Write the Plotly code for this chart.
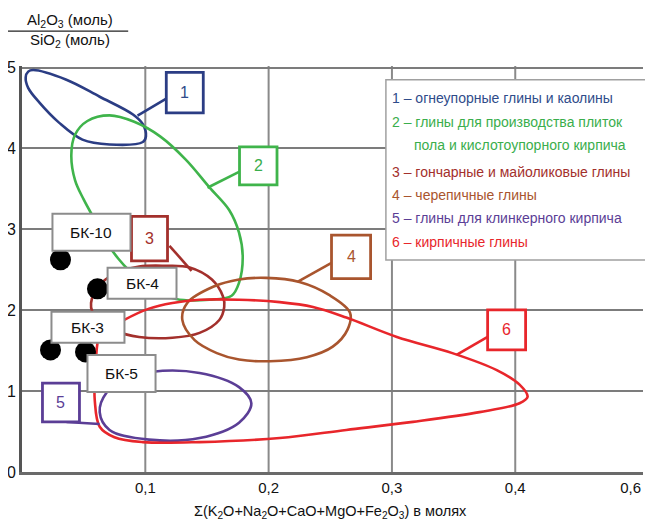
import plotly.graph_objects as go

# ---------------- data ----------------
# 1 – огнеупорные глины и каолины
E1_X = [0.009, 0.036, 0.063, 0.090, 0.098, 0.1005, 0.098, 0.071, 0.049, 0.030, 0.014, 0.005, 0.003, 0.005, 0.009]
E1_Y = [4.97, 4.85, 4.64, 4.42, 4.30, 4.15, 4.08, 4.05, 4.11, 4.32, 4.57, 4.75, 4.88, 4.95, 4.97]
# 2 – глины для производства плиток пола и кислотоупорного кирпича
E2_X = [0.071, 0.091, 0.112, 0.133, 0.152, 0.168, 0.176, 0.179, 0.176, 0.170, 0.152, 0.125, 0.103,
        0.087, 0.078, 0.069, 0.060, 0.050, 0.043, 0.040, 0.043, 0.053, 0.071]
E2_Y = [4.41, 4.33, 4.15, 3.86, 3.52, 3.24, 2.96, 2.66, 2.34, 2.18, 2.13, 2.14, 2.29,
        2.49, 2.64, 2.83, 3.09, 3.37, 3.61, 3.92, 4.17, 4.34, 4.41]
# 3 – гончарные и майоликовые глины
E3_X = [0.056, 0.061, 0.075, 0.095, 0.116, 0.136, 0.154, 0.163, 0.164, 0.160, 0.144, 0.122, 0.095,
        0.075, 0.063, 0.057, 0.056]
E3_Y = [2.09, 2.28, 2.45, 2.54, 2.55, 2.53, 2.38, 2.17, 2.04, 1.88, 1.72, 1.66, 1.67,
        1.75, 1.86, 1.98, 2.09]
# 4 – черепичные глины
E4_X = [0.130, 0.134, 0.155, 0.176, 0.198, 0.225, 0.249, 0.266, 0.264, 0.252, 0.231, 0.201, 0.176,
        0.158, 0.140, 0.130]
E4_Y = [1.88, 2.09, 2.29, 2.38, 2.40, 2.35, 2.19, 1.97, 1.76, 1.55, 1.42, 1.37, 1.39,
        1.47, 1.63, 1.88]
# 5 – глины для клинкерного кирпича
E5_X = [0.106, 0.144, 0.176, 0.186, 0.176, 0.144, 0.103, 0.071, 0.063, 0.0685, 0.083, 0.106]
E5_Y = [1.24, 1.225, 1.05, 0.85, 0.61, 0.42, 0.40, 0.52, 0.74, 0.98, 1.14, 1.24]
# 6 – кирпичные глины
E6_X = [0.071, 0.083, 0.103, 0.122, 0.144, 0.176, 0.209, 0.236, 0.263, 0.304, 0.349, 0.385, 0.4035,
        0.410, 0.4035, 0.371, 0.317, 0.263, 0.209, 0.144, 0.098, 0.075, 0.063, 0.059, 0.059, 0.060,
        0.061, 0.063, 0.071]
E6_Y = [1.76, 1.88, 2.02, 2.09, 2.13, 2.13, 2.10, 2.04, 1.91, 1.67, 1.47, 1.26, 1.08,
        0.93, 0.85, 0.74, 0.62, 0.52, 0.42, 0.37, 0.37, 0.43, 0.56, 0.89, 1.14, 1.39,
        1.57, 1.70, 1.76]

SERIES_X = [E1_X, E2_X, E3_X, E4_X, E5_X, E6_X]
SERIES_Y = [E1_Y, E2_Y, E3_Y, E4_Y, E5_Y, E6_Y]
SERIES_NUM = ["1", "2", "3", "4", "5", "6"]
COLORS = ["#2b3d84", "#3fb44b", "#a3302c", "#a9552e", "#5b3e96", "#e8262b"]
TEXT_COLORS = ["#2f4c8a", "#3aae4c", "#a3302c", "#a9552e", "#5b3e96", "#e8262b"]

LEGEND_LINES = ["1 – огнеупорные глины и каолины",
                "2 – глины для производства плиток",
                "пола и кислотоупорного кирпича",
                "3 – гончарные и майоликовые глины",
                "4 – черепичные глины",
                "5 – глины для клинкерного кирпича",
                "6 – кирпичные глины"]
LEGEND_LINE_SERIES = [0, 1, 1, 2, 3, 4, 5]

SAMPLES = ["БК-10", "БК-4", "БК-3", "БК-5"]
SAMPLE_X = [0.0312, 0.0612, 0.0231, 0.0515]
SAMPLE_Y = [2.624, 2.265, 1.510, 1.485]

# the source axis labels its last tick "0,6" just inside the right edge
X_TICKS = [0.1, 0.2, 0.3, 0.4, 0.4935]
X_TICK_TEXT = ["0,1", "0,2", "0,3", "0,4", "0,6"]
Y_TICKS = [0, 1, 2, 3, 4, 5]
GRID_X = [0.1, 0.2, 0.3, 0.4]

# ---------------- layout helpers (positions, not data) ----------------
FONT = "Liberation Sans, Arial, sans-serif"

# number boxes: (x0, x1, y0, y1) and connector (xa, ya, xb, yb)
NUM_BOX = [(0.117, 0.147, 4.44, 4.94),
           (0.1764, 0.2068, 3.55, 4.02),
           (0.0888, 0.1180, 2.61, 3.16),
           (0.2510, 0.2827, 2.39, 2.93),
           (0.0166, 0.0466, 0.62, 1.10),
           (0.3776, 0.4084, 1.51, 2.005)]
NUM_LINK = [(0.117, 4.616, 0.0937, 4.406),
            (0.1764, 3.713, 0.1504, 3.515),
            (0.1196, 2.797, 0.1375, 2.488),
            (0.2510, 2.587, 0.2234, 2.351),
            (0.0361, 0.619, 0.0629, 0.594),
            (0.3776, 1.671, 0.3524, 1.448)]
BK_BOX = [(0.0247, 0.0880, 2.735, 3.193),
          (0.0694, 0.1253, 2.141, 2.525),
          (0.0239, 0.0831, 1.597, 1.980),
          (0.0531, 0.1083, 0.990, 1.448)]

fig = go.Figure()

for i in range(6):
    fig.add_trace(go.Scatter(x=SERIES_X[i], y=SERIES_Y[i], mode="lines",
                             line=dict(color=COLORS[i], width=2.6, shape="spline", smoothing=1.0),
                             hoverinfo="skip", showlegend=False))

fig.add_trace(go.Scatter(x=SAMPLE_X, y=SAMPLE_Y, mode="markers",
                         marker=dict(color="black", size=21), text=SAMPLES,
                         showlegend=False))

shapes = []
for gx in GRID_X:
    shapes.append(dict(type="line", xref="x", yref="y", x0=gx, x1=gx, y0=0, y1=5.02,
                       line=dict(color="#8a8a8a", width=2), layer="below"))

for i in range(6):
    xa, ya, xb, yb = NUM_LINK[i]
    shapes.append(dict(type="line", xref="x", yref="y", x0=xa, y0=ya, x1=xb, y1=yb,
                       line=dict(color=COLORS[i], width=2.6), layer="above"))
for i in range(6):
    x0, x1, y0, y1 = NUM_BOX[i]
    shapes.append(dict(type="rect", xref="x", yref="y", x0=x0, x1=x1, y0=y0, y1=y1,
                       fillcolor="white", line=dict(color=COLORS[i], width=2.8), layer="above"))
for b in BK_BOX:
    x0, x1, y0, y1 = b
    shapes.append(dict(type="rect", xref="x", yref="y", x0=x0, x1=x1, y0=y0, y1=y1,
                       fillcolor="white", line=dict(color="#8c8c8c", width=2), layer="above"))

# legend frame
shapes.append(dict(type="rect", xref="paper", yref="y", x0=0.586, x1=1.04, y0=2.62, y1=4.85,
                   fillcolor="white", line=dict(color="#a0a0a0", width=1.5), layer="above"))
# fraction bar of the y title
shapes.append(dict(type="line", xref="paper", yref="paper", x0=-0.024, x1=0.171, y0=1.086, y1=1.086,
                   line=dict(color="#222", width=1.2)))

ann = []
for i in range(6):
    x0, x1, y0, y1 = NUM_BOX[i]
    ann.append(dict(x=(x0 + x1) / 2, y=(y0 + y1) / 2, xref="x", yref="y", text=SERIES_NUM[i],
                    xanchor="center", yanchor="middle",
                    showarrow=False, font=dict(family=FONT, size=16, color=TEXT_COLORS[i])))
for i, b in enumerate(BK_BOX):
    x0, x1, y0, y1 = b
    ann.append(dict(x=(x0 + x1) / 2, y=(y0 + y1) / 2, xref="x", yref="y", text=SAMPLES[i],
                    xanchor="center", yanchor="middle",
                    showarrow=False, font=dict(family=FONT, size=15.5, color="#111")))

LEG_Y = [4.629, 4.332, 4.047, 3.713, 3.428, 3.144, 2.847]
for k, line in enumerate(LEGEND_LINES):
    xk = 0.628 if k == 2 else 0.5926
    ann.append(dict(x=xk, y=LEG_Y[k], xref="paper", yref="y", text=line, showarrow=False,
                    xanchor="left", yanchor="middle",
                    font=dict(family=FONT, size=14, color=TEXT_COLORS[LEGEND_LINE_SERIES[k]])))

ann.append(dict(x=0.0773, y=1.111, xref="paper", yref="paper", showarrow=False,
                text="Al<sub>2</sub>O<sub>3</sub> (моль)", xanchor="center", yanchor="middle",
                font=dict(family=FONT, size=15, color="#111")))
ann.append(dict(x=0.0773, y=1.0616, xref="paper", yref="paper", showarrow=False,
                text="SiO<sub>2</sub> (моль)", xanchor="center", yanchor="middle",
                font=dict(family=FONT, size=15, color="#111")))
ann.append(dict(x=0.496, y=-0.0985, xref="paper", yref="paper", showarrow=False,
                text="Σ(K<sub>2</sub>O+Na<sub>2</sub>O+CaO+MgO+Fe<sub>2</sub>O<sub>3</sub>) в молях",
                xanchor="center", yanchor="middle", font=dict(family=FONT, size=14.5, color="#111")))

# the page adds an 8 px body margin, so the figure is 8 px smaller on each axis
fig.update_layout(
    width=645, height=516,
    margin=dict(l=14, r=10, t=58, b=52),
    paper_bgcolor="white", plot_bgcolor="white",
    shapes=shapes, annotations=ann,
    font=dict(family=FONT, size=15, color="#111"),
    xaxis=dict(range=[0, 0.5036], tickvals=X_TICKS, ticktext=X_TICK_TEXT, showgrid=False,
               zeroline=False, showline=True, linecolor="#6a6a6a", linewidth=2.5,
               ticks="", automargin=False, tickfont=dict(family=FONT, size=15, color="#111")),
    yaxis=dict(range=[0, 5.02], tickvals=Y_TICKS, showgrid=True, gridcolor="#7c7c7c", gridwidth=2,
               zeroline=False, showline=True, linecolor="#555", linewidth=3,
               ticks="", automargin=False, tickfont=dict(family=FONT, size=16, color="#111")),
)

fig.write_html("out.html")
